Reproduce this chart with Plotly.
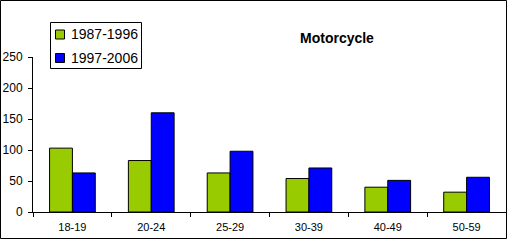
import plotly.graph_objects as go

categories = ["18-19", "20-24", "25-29", "30-39", "40-49", "50-59"]
series_a_name = "1987-1996"
series_a = [103, 83, 63, 54, 40, 32]
series_b_name = "1997-2006"
series_b = [63, 160, 98, 71, 51, 56]
y_ticks = [0, 50, 100, 150, 200, 250]
title_text = "Motorcycle"
colors = ["#99CC00", "#0000FF"]

W, H = 508, 240
L, R, T, B = 33, 2, 57, 28
pw, ph = W - L - R, H - T - B

def px_x(p):
    return (p - L) / pw

def px_y(p):
    return (H - B - p) / ph

fig = go.Figure()
for name, vals, col in [(series_a_name, series_a, colors[0]), (series_b_name, series_b, colors[1])]:
    fig.add_bar(x=categories, y=vals, name=name, showlegend=False,
                marker=dict(color=col, line=dict(color="black", width=1)))

shapes = [dict(type="rect", xref="paper", yref="paper",
               x0=px_x(0.5), x1=px_x(506.5), y0=px_y(238.5), y1=px_y(0.5),
               line=dict(color="black", width=1), layer="above"),
          dict(type="rect", xref="paper", yref="paper",
               x0=px_x(50.5), x1=px_x(141.5), y0=px_y(68.5), y1=px_y(22.5),
               line=dict(color="black", width=1), fillcolor="white", layer="above")]
annotations = [dict(text="<b>" + title_text + "</b>", xref="paper", yref="paper",
                    x=px_x(337), y=px_y(38), xanchor="center", yanchor="middle",
                    showarrow=False, font=dict(size=14))]
for i, (name, col) in enumerate([(series_a_name, colors[0]), (series_b_name, colors[1])]):
    cy = 34.5 + i * 23.5
    shapes.append(dict(type="rect", xref="paper", yref="paper",
                       x0=px_x(55.5), x1=px_x(64.5), y0=px_y(cy + 4.5), y1=px_y(cy - 4.5),
                       line=dict(color="black", width=1), fillcolor=col, layer="above"))
    annotations.append(dict(text=name, xref="paper", yref="paper",
                            x=px_x(69), y=px_y(cy), xanchor="left", yanchor="middle",
                            showarrow=False, font=dict(size=14)))

fig.update_layout(
    width=W, height=H,
    margin=dict(l=L, r=R, t=T, b=B, pad=0),
    paper_bgcolor="white", plot_bgcolor="white",
    barmode="group", bargap=0.42, bargroupgap=0,
    font=dict(family="Arial, Liberation Sans, sans-serif", color="black"),
    showlegend=False,
    annotations=annotations,
    shapes=shapes,
)
fig.update_xaxes(showline=True, linecolor="black", linewidth=1,
                 ticks="outside", ticklen=4, tickcolor="black",
                 tickson="boundaries", showgrid=False, ticklabelstandoff=5,
                 tickfont=dict(size=11))
fig.update_yaxes(range=[0, 250], tickvals=y_ticks, showline=True,
                 linecolor="black", linewidth=1, ticks="outside", ticklen=4,
                 tickcolor="black", showgrid=False, zeroline=False, ticklabelstandoff=3,
                 tickfont=dict(size=12))

fig.write_html("out.html", config={"displayModeBar": False},
               post_script="document.body.style.margin='0';document.body.style.padding='0';")
